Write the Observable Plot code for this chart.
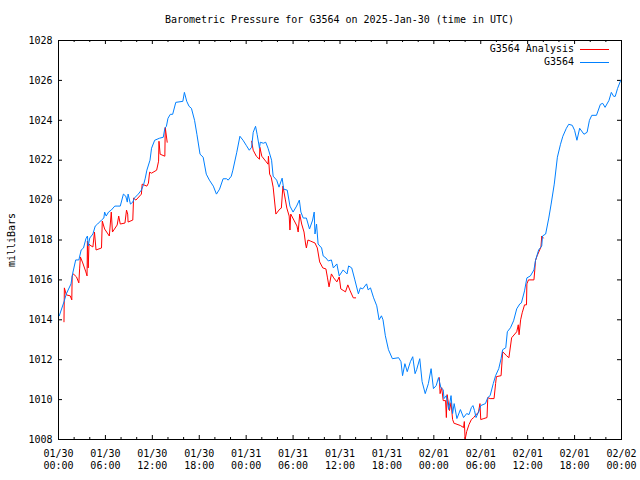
<!DOCTYPE html>
<html>
<head>
<meta charset="utf-8">
<script src="https://cdn.jsdelivr.net/npm/d3@7"></script>
<script src="https://cdn.jsdelivr.net/npm/@observablehq/plot@0.6"></script>
<style>
  html, body { margin: 0; padding: 0; background: #fff; }
  #wrap { position: relative; width: 640px; height: 480px; font-family: "DejaVu Sans Mono", monospace; font-size: 10px; color: #000; }
  #title { box-sizing: border-box; height: 30px; padding-top: 14px; line-height: 12px; text-align: center; padding-left: 58px; padding-right: 19px; white-space: pre; }
  #legend { position: absolute; top: 43px; right: 0; }
  .lrow { position: absolute; right: 0; height: 13px; line-height: 12px; white-space: pre; }
  .lrow span { position: absolute; right: 66px; top: 0; }
  .lrow i { position: absolute; right: 31px; top: 6px; width: 29px; height: 1px; }
</style>
</head>
<body>
<div id="wrap">
  <div id="title"></div>
  <div id="chart"></div>
  <div id="legend"></div>
</div>
<script>
const titleText = "Barometric Pressure for G3564 on 2025-Jan-30 (time in UTC)";
const yLabel = "milliBars";
const seriesNames = ["G3564 Analysis", "G3564"];
const seriesColors = ["#ff0000", "#0080ff"];

// hours since 2025-01-30 00:00 UTC
const xTicks = [0, 6, 12, 18, 24, 30, 36, 42, 48, 54, 60, 66, 72];
const xTickLabels = ["01/30\n00:00", "01/30\n06:00", "01/30\n12:00", "01/30\n18:00", "01/31\n00:00", "01/31\n06:00", "01/31\n12:00", "01/31\n18:00", "02/01\n00:00", "02/01\n06:00", "02/01\n12:00", "02/01\n18:00", "02/02\n00:00"];
const xMinorTicks = [2, 4, 8, 10, 14, 16, 20, 22, 26, 28, 32, 34, 38, 40, 44, 46, 50, 52, 56, 58, 62, 64, 68, 70];
const yTicks = [1008, 1010, 1012, 1014, 1016, 1018, 1020, 1022, 1024, 1026, 1028];
const yTickLabels = ["1008", "1010", "1012", "1014", "1016", "1018", "1020", "1022", "1024", "1026", "1028"];

// G3564 observations
const obsHours = [0.1,0.7,1.0,1.6,1.8,2.2,2.6,2.9,3.2,3.5,3.7,3.8,4.0,4.4,4.7,5.0,5.5,5.8,5.9,6.1,6.4,6.75,7.2,7.6,7.9,8.3,8.6,8.8,8.9,9.2,9.5,9.7,10.2,10.6,10.9,11.1,11.3,11.7,11.9,12.3,12.6,12.9,13.4,13.6,13.8,14.0,14.3,14.6,15.0,15.9,16.1,16.4,16.7,17.0,17.4,17.7,18.1,18.5,18.9,19.3,19.8,20.2,20.6,21.05,21.5,21.7,22.1,22.3,22.8,23.2,23.6,24.0,24.4,24.7,24.9,25.2,25.4,25.7,25.8,26.2,26.5,26.8,27.25,27.45,27.9,28.2,28.6,28.8,29.25,29.6,30.0,30.45,30.8,31.0,31.3,31.7,32.1,32.5,32.7,32.8,33.0,33.2,33.65,33.85,34.2,34.5,34.9,35.15,35.6,35.9,36.4,36.9,37.1,37.5,37.9,38.35,38.6,38.9,39.4,39.6,39.9,40.3,40.7,41.0,41.3,41.5,41.8,42.2,42.7,43.5,43.8,44.0,44.3,44.6,45.0,45.3,45.6,45.8,46.2,46.5,46.9,47.3,47.65,47.95,48.3,48.6,48.9,49.2,49.3,49.6,49.9,50.2,50.4,50.6,50.95,51.4,51.8,52.2,52.5,52.8,53.0,53.2,53.4,53.8,54.0,54.6,54.9,55.2,55.6,55.9,56.3,56.6,56.8,57.2,57.4,57.8,58.2,58.6,59.0,59.2,59.6,59.9,60.35,60.8,61.0,61.4,61.8,61.9,62.3,62.7,63.0,63.4,63.8,64.2,64.5,64.95,65.25,65.7,66.0,66.3,66.65,67.2,67.6,67.9,68.2,68.8,69.3,69.6,69.9,70.4,70.7,71.0,71.2,71.5,71.9,72];
const obsValues = [1014.2,1014.9,1015.3,1015.8,1016.3,1017.0,1017.0,1017.5,1017.6,1018.06,1018.2,1017.7,1018.1,1018.3,1018.7,1018.8,1019.0,1019.1,1019.4,1019.2,1019.4,1019.5,1019.7,1019.7,1019.7,1020.3,1020.2,1019.9,1020.3,1019.8,1019.9,1020.1,1020.3,1020.5,1020.8,1021.1,1021.5,1022.0,1022.6,1023.0,1023.05,1023.1,1023.15,1023.6,1023.7,1024.1,1024.3,1024.3,1024.9,1024.95,1025.4,1024.95,1024.7,1024.6,1024.0,1023.3,1022.3,1022.15,1021.3,1021.0,1020.7,1020.3,1020.55,1021.07,1021.07,1021.0,1021.2,1021.5,1022.4,1023.2,1023.0,1022.75,1022.5,1022.65,1023.4,1023.7,1023.3,1022.6,1022.9,1022.85,1022.9,1022.6,1022.0,1021.2,1021.0,1020.65,1021.1,1020.55,1020.5,1019.7,1019.4,1019.7,1020.0,1019.4,1019.1,1019.1,1018.55,1019.0,1019.4,1018.3,1018.8,1017.8,1017.6,1017.2,1017.1,1016.95,1017.0,1016.6,1016.8,1016.2,1016.5,1016.3,1016.7,1016.6,1016.0,1015.3,1015.6,1015.55,1015.8,1015.5,1015.6,1015.1,1014.7,1014.0,1014.2,1014.0,1013.2,1012.5,1012.05,1012.1,1011.9,1011.2,1011.8,1011.4,1011.9,1012.15,1011.3,1011.5,1012.05,1010.9,1010.3,1010.8,1011.55,1010.55,1010.7,1011.1,1010.6,1010.5,1010.05,1010.2,1009.5,1010.2,1009.3,1009.8,1009.05,1009.5,1009.1,1009.3,1009.25,1009.6,1009.7,1009.45,1009.1,1009.45,1009.7,1009.8,1010.1,1010.2,1010.8,1011.2,1011.55,1012.05,1012.5,1012.6,1013.4,1013.6,1013.95,1014.55,1014.8,1014.85,1015.45,1016.1,1016.2,1016.5,1016.97,1017.5,1017.7,1018.2,1018.3,1019.1,1019.8,1020.8,1022.15,1022.8,1023.2,1023.6,1023.8,1023.75,1023.5,1023.0,1023.6,1023.3,1023.4,1024.0,1024.25,1024.25,1024.8,1024.85,1024.65,1025.0,1025.4,1025.2,1025.2,1025.6,1026.0,1026.05];

// G3564 Analysis (null = gap)
const anaHours = [0.7,0.75,1.0,1.5,1.7,1.75,1.9,2.3,2.6,2.7,2.8,3.1,3.5,3.65,3.7,3.8,3.9,4.0,4.4,4.6,4.8,5.5,5.6,5.9,6.5,6.75,6.9,7.5,7.7,7.9,8.5,8.7,8.85,8.9,9.5,9.6,9.9,10.6,10.7,11.3,11.5,11.65,11.9,12.55,12.8,12.85,13.0,13.6,13.65,13.9,
  19,
  24.7,24.9,25.3,25.7,25.75,26.0,26.5,26.8,26.85,27.0,27.2,27.45,27.8,28.3,28.5,28.7,29.0,29.2,29.5,29.6,29.7,30.1,30.5,30.65,30.85,31.1,31.4,31.6,31.7,31.9,32.2,32.8,33.1,33.4,33.8,34.2,34.4,34.6,34.9,35.2,35.6,35.9,36.1,36.5,36.7,37.0,37.3,37.7,38.0,
  43,
  48.7,48.8,49.0,49.2,49.5,49.6,49.7,50.0,50.2,50.4,50.6,50.7,51.4,51.8,51.9,52.0,52.2,52.5,52.8,53.1,53.4,53.7,53.9,54.0,54.4,54.8,54.9,55.2,55.7,55.9,56.0,56.6,56.8,57.3,57.6,57.95,58.6,58.8,58.9,59.1,59.3,59.6,59.85,59.9,60.1,60.8,60.9,61.0,61.2,61.7,61.8,62.0];
const anaValues = [1013.9,1015.6,1015.25,1015.2,1015.0,1016.2,1016.3,1016.15,1015.85,1016.55,1017.15,1016.85,1016.4,1016.2,1017.95,1016.6,1017.8,1017.75,1017.65,1018.4,1017.5,1017.6,1018.95,1018.55,1018.2,1019.4,1018.4,1018.75,1019.2,1018.8,1018.85,1019.5,1019.3,1018.9,1019.0,1020.1,1020.0,1020.3,1020.8,1020.7,1020.85,1021.4,1021.35,1021.5,1021.95,1022.95,1022.3,1022.2,1023.65,1022.9,
  null,
  1022.95,1022.5,1022.2,1022.05,1022.65,1022.2,1021.95,1021.8,1022.2,1021.3,1021.15,1020.65,1019.3,1019.55,1019.6,1020.7,1020.05,1019.6,1019.2,1018.5,1019.3,1019.0,1018.7,1018.4,1019.3,1018.8,1018.4,1017.8,1017.6,1018.0,1017.95,1017.85,1017.6,1016.9,1016.6,1016.55,1016.1,1015.65,1016.3,1016.1,1015.9,1016.15,1015.55,1015.45,1015.4,1015.75,1015.45,1015.1,1015.1,
  null,
  1011.1,1010.3,1010.6,1009.95,1009.95,1009.1,1010.25,1009.45,1009.85,1009.0,1008.8,1008.8,1008.7,1008.6,1008.9,1008.0,1008.4,1008.75,1009.0,1009.1,1009.25,1009.35,1009.8,1009.0,1009.05,1009.1,1010.1,1010.05,1010.05,1010.8,1011.15,1011.2,1012.4,1012.2,1012.1,1013.1,1013.4,1013.75,1013.25,1014.0,1014.35,1014.75,1014.75,1015.8,1016.0,1016.0,1016.45,1016.97,1017.2,1017.65,1018.2,1018.1];

const obs = obsHours.map((h, i) => ({h, v: obsValues[i]}));
const ana = anaHours.map((h, i) => ({h, v: anaValues[i]}));

const W = 640, H = 450;
const mL = 58, mR = 19, mT = 10, mB = 41;
const pw = W - mL - mR, ph = H - mT - mB;
const font = "DejaVu Sans Mono";

document.getElementById("title").textContent = titleText;

const chart = Plot.plot({
  width: W, height: H,
  marginLeft: mL, marginRight: mR, marginTop: mT, marginBottom: mB,
  style: {fontFamily: font, fontSize: "10px", color: "#000", background: "#fff"},
  x: {domain: [0, 72], label: null},
  y: {domain: [1008, 1028], label: null},
  marks: [
    Plot.axisY(yTicks, {anchor: "left", tickSize: 0, tickPadding: 6, fontSize: 10, tickFormat: (d, i) => yTickLabels[i], label: yLabel, labelAnchor: "center", labelArrow: "none", labelOffset: 51}),
    Plot.axisX(xTicks, {anchor: "bottom", tickSize: 0, tickPadding: 9, fontSize: 10, lineHeight: 1.2, tickFormat: (d, i) => xTickLabels[i], label: null}),
    // inward ticks
    Plot.tickY(yTicks, {y: d => d, stroke: "#000", insetRight: pw - 4}),
    Plot.tickY(yTicks, {y: d => d, stroke: "#000", insetLeft: pw - 4}),
    Plot.tickX(xTicks, {x: d => d, stroke: "#000", insetTop: ph - 4}),
    Plot.tickX(xTicks, {x: d => d, stroke: "#000", insetBottom: ph - 4}),
    Plot.tickX(xMinorTicks, {x: d => d, stroke: "#000", insetTop: ph - 2}),
    Plot.tickX(xMinorTicks, {x: d => d, stroke: "#000", insetBottom: ph - 2}),
    Plot.line(ana, {x: "h", y: "v", stroke: seriesColors[0], strokeWidth: 1, curve: "linear"}),
    Plot.line(obs, {x: "h", y: "v", stroke: seriesColors[1], strokeWidth: 1, curve: "linear"}),
    Plot.frame({stroke: "#000", strokeWidth: 1})
  ]
});
document.getElementById("chart").appendChild(chart);

const legend = document.getElementById("legend");
seriesNames.forEach((name, i) => {
  const row = document.createElement("div");
  row.className = "lrow";
  row.style.top = (i * 13) + "px";
  row.style.width = "300px";
  const s = document.createElement("span");
  s.textContent = name;
  const l = document.createElement("i");
  l.style.background = seriesColors[i];
  row.appendChild(s);
  row.appendChild(l);
  legend.appendChild(row);
});
</script>
</body>
</html>
